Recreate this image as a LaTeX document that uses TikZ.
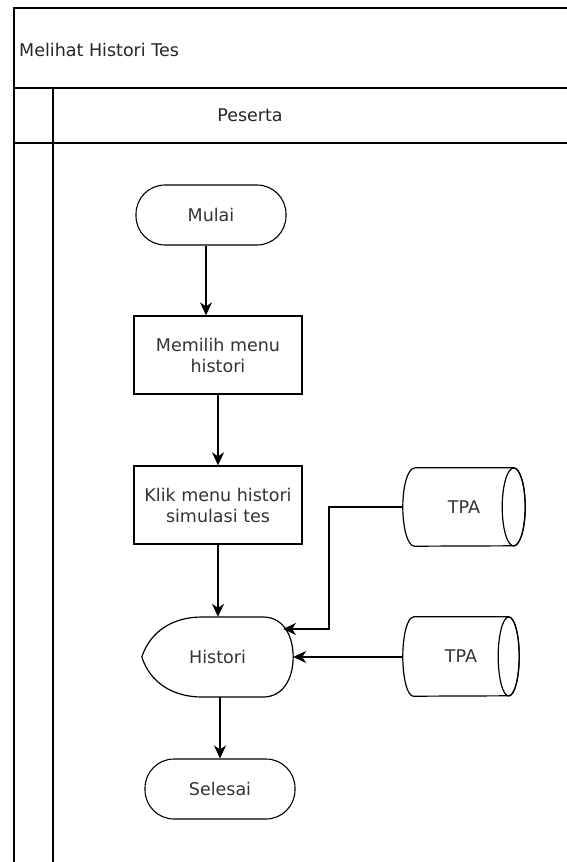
\documentclass[tikz,border=0pt]{standalone}
\usepackage{fontspec}
\setmainfont{DejaVu Sans}
\usetikzlibrary{shapes.geometric,arrows.meta,calc}
\definecolor{txt}{HTML}{333333}
\begin{document}
\begin{tikzpicture}[x=1pt,y=-1pt,
  font=\fontsize{17.5}{21}\selectfont,
  frame/.style={line width=2pt,black},
  conn/.style={line width=1.3pt,-{Stealth[length=13pt,width=12pt,inset=4pt]}},
  term/.style={draw,line width=1.1pt,rounded corners=29pt,minimum width=150pt,minimum height=60pt,text=txt,inner sep=0pt},
  procbox/.style={draw,line width=1.3pt,minimum width=168pt,minimum height=78pt,align=center,text=txt,inner sep=0pt},
  outline/.style={line width=1.2pt},
  txtnode/.style={inner sep=0pt,text=txt}]
\useasboundingbox (0,0) rectangle (567,862);
\fill[white] (0,0) rectangle (567,862);
% pool / lane frame
\coordinate (tl) at (14,7.5);
\coordinate (tr) at (567,7.5);
\coordinate (bl) at (14,862);
\draw[frame] (bl) -- (tl) -- (tr);
\draw[frame] (14,87.5) coordinate (h1l) -- (567,87.5) coordinate (h1r);
\draw[frame] (14,143) coordinate (h2l) -- (567,143) coordinate (h2r);
\draw[frame] (53,87.5) coordinate (vl1) -- (53,862) coordinate (vl2);
\node[anchor=west,inner sep=0pt,text=black!85] (title) at (19,50) {Melihat Histori Tes};
\node[inner sep=0pt,text=black!85] (lane) at (250,115) {Peserta};
% nodes
\node[term] (mulai) at (211,215) {Mulai};
\node[procbox] (memilih) at (218,355) {Memilih menu\\histori};
\node[procbox] (klik) at (218,505) {Klik menu histori\\simulasi tes};
\node[txtnode,minimum width=151pt,minimum height=80pt] (histori) at (217.5,657) {Histori};
\draw[outline] (histori.west) .. controls (150,632) and (172,617) .. (202,617) -- (263,617)
   .. controls (283,617) and (293,635) .. (histori.east)
   .. controls (293,679) and (283,697) .. (263,697) -- (202,697)
   .. controls (172,697) and (150,682) .. (histori.west) -- cycle;
\node[term] (selesai) at (220,789) {Selesai};
% data stores (horizontal cylinders)
\node[txtnode,minimum width=122pt,minimum height=78pt] (tpa1) at (464,507) {TPA};
\draw[outline] ([xshift=11.5pt]tpa1.north west) -- ([xshift=-11.5pt]tpa1.north east)
   arc[start angle=90,end angle=-90,x radius=11.5pt,y radius=39pt]
   -- ([xshift=11.5pt]tpa1.south west)
   arc[start angle=-90,end angle=-270,x radius=11.5pt,y radius=39pt];
\draw[outline] ([xshift=-11.5pt]tpa1.east) ellipse[x radius=11.5pt,y radius=39pt];
\node[txtnode,minimum width=116pt,minimum height=79pt] (tpa2) at (461,656.5) {TPA};
\draw[outline] ([xshift=10.5pt]tpa2.north west) -- ([xshift=-10.5pt]tpa2.north east)
   arc[start angle=90,end angle=-90,x radius=10.5pt,y radius=39.5pt]
   -- ([xshift=10.5pt]tpa2.south west)
   arc[start angle=-90,end angle=-270,x radius=10.5pt,y radius=39.5pt];
\draw[outline] ([xshift=-10.5pt]tpa2.east) ellipse[x radius=10.5pt,y radius=39.5pt];
\coordinate (hin) at (283,629);
\coordinate (bend) at (329,629);
% connectors
\draw[conn] ([xshift=-5pt]mulai.south) -- ([xshift=-12pt]memilih.north);
\draw[conn] (memilih.south) -- (klik.north);
\draw[conn] (klik.south) -- ([xshift=0.5pt]histori.north);
\draw[conn] ([xshift=2.5pt]histori.south) -- (selesai.north);
\draw[conn] (tpa1.west) -| (bend) -- (hin);
\draw[conn] (tpa2.west |- histori.east) -- (histori.east);
\end{tikzpicture}
\end{document}
